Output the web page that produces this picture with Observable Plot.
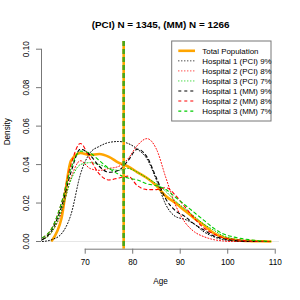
<!DOCTYPE html>
<html><head><meta charset="utf-8">
<script src="https://cdn.jsdelivr.net/npm/d3@7"></script>
<script src="https://cdn.jsdelivr.net/npm/@observablehq/plot@0.6"></script>
<style>body{margin:0;background:#fff;} svg{display:block}</style>
</head><body><div id="chart"></div>
<script>
const title = "(PCI) N = 1345, (MM) N = 1266";
const xLabel = "Age";
const yLabel = "Density";
const ages = [61,63,65,67,69,71,73,75,77,79,81,83,85,87,89,91,93,95,97,99,101,103,105,107,109];
const totalPop = [null,0.0005,0.012,0.042,0.046,0.045,0.0455,0.044,0.041,0.039,0.036,0.033,0.029,0.0235,0.020,0.016,0.012,0.0085,0.0045,0.0022,0.001,0.0004,0.0002,0.0001,0];
const h1PCI = [0,0.001,0.004,0.014,0.035,0.046,0.0495,0.0515,0.052,0.051,0.048,0.043,0.032,0.019,0.013,0.0115,0.009,0.005,0.0025,0.001,0.0003,0,0,0,0];
const h2PCI = [0.001,0.005,0.015,0.033,0.042,0.038,0.037,0.038,0.039,0.043,0.050,0.0535,0.048,0.033,0.019,0.010,0.005,0.0025,0.001,0.0003,0,0,0,0,0];
const h3PCI = [0.001,0.005,0.016,0.032,0.040,0.041,0.040,0.038,0.037,0.038,0.036,0.033,0.030,0.026,0.021,0.017,0.013,0.009,0.006,0.003,0.0015,0.0007,0.0003,0.0001,0];
const h1MM = [0.001,0.006,0.018,0.036,0.048,0.045,0.039,0.036,0.037,0.042,0.048,0.044,0.033,0.022,0.016,0.013,0.009,0.006,0.003,0.0015,0.0006,0.0002,0,0,0];
const h2MM = [0.002,0.007,0.020,0.040,0.051,0.043,0.035,0.032,0.033,0.034,0.029,0.027,0.027,0.028,0.024,0.018,0.012,0.007,0.004,0.002,0.0012,0.0006,0.0002,0.0001,0];
const h3MM = [0.002,0.007,0.020,0.038,0.047,0.046,0.042,0.038,0.035,0.033,0.032,0.030,0.029,0.027,0.023,0.019,0.015,0.011,0.007,0.004,0.0025,0.0015,0.0008,0.0003,0.0001];
const meanAge = 78.1;
const xTicks = [70,80,90,100,110];
const yTicks = [0,0.02,0.04,0.06,0.08,0.10];
const seriesLabels = ["Total Population","Hospital 1 (PCI) 9%","Hospital 2 (PCI) 8%","Hospital 3 (PCI) 7%","Hospital 1 (MM) 9%","Hospital 2 (MM) 8%","Hospital 3 (MM) 7%"];
const seriesValues = [totalPop,h1PCI,h2PCI,h3PCI,h1MM,h2MM,h3MM];
const seriesColors = ["#FFA500","#000000","#FF0000","#00CC00","#000000","#FF0000","#00CC00"];
const seriesDash = [null,"1,2","1,2","1,2","3,3","3,3","3,3"];
const seriesWidth = [2.6,1,1,1,1.1,1.1,1.1];

const xDomain = [60.8,110.9];
const yDomain = [-0.004,0.104];
const font = "'Liberation Sans', Arial, sans-serif";

const rows = seriesValues.map(vals => ages.map((a,i)=>({age:a, density:vals[i]})).filter(d=>d.density!=null));

const lineMarks = rows.map((r,i)=>Plot.line(r,{x:"age",y:"density",stroke:seriesColors[i],strokeWidth:seriesWidth[i],strokeDasharray:seriesDash[i],curve:"monotone-x",clip:true}));

const svg = Plot.plot({
  width:300,height:300,
  marginLeft:41,marginRight:21,marginTop:41,marginBottom:51.3,
  x:{domain:xDomain},
  y:{domain:yDomain},
  style:{fontFamily:font,fontSize:"8.2px",background:"white",color:"black"},
  marks:[
    Plot.ruleY([0],{stroke:"#e6e6e6",strokeWidth:1}),
    ...lineMarks,
    Plot.ruleX([meanAge],{stroke:"#FFA500",strokeWidth:2.6}),
    Plot.ruleX([meanAge],{stroke:"#4aa61c",strokeWidth:2.6,strokeDasharray:"5,3"}),
    Plot.ruleY([yDomain[0]],{x1:xTicks[0],x2:xTicks[xTicks.length-1],stroke:"#777"}),
    Plot.ruleX([xDomain[0]],{y1:yTicks[0],y2:yTicks[yTicks.length-1],stroke:"#777"}),
    Plot.axisX(xTicks,{tickSize:5,tickPadding:5,stroke:"#777",fill:"black",fontSize:8.2,label:null,tickFormat:d=>String(d)}),
    Plot.axisY(yTicks,{tickSize:5,stroke:"#777",label:null,tickFormat:()=>""}),
    Plot.text(yTicks,{x:xDomain[0],y:d=>d,text:d=>d.toFixed(2),rotate:-90,dx:-15,fontSize:8.2,fill:"black"}),
    Plot.text([xLabel],{frameAnchor:"bottom",dy:35,fontSize:8.2,fill:"black"}),
    Plot.text([yLabel],{frameAnchor:"left",dx:-34,rotate:-90,fontSize:8.2,fill:"black"}),
    Plot.text([title],{frameAnchor:"top",dy:-21,fontSize:9.9,fontWeight:"bold",fill:"black"})
  ]
});

// legend
const lg = d3.select(svg).append("g").attr("font-family",font).attr("font-size","7.9px").attr("text-anchor","start");
lg.append("rect").attr("x",171.7).attr("y",41).attr("width",99.3).attr("height",80).attr("fill","white").attr("stroke","#777");
seriesLabels.forEach((lab,i)=>{
  const y = 50.8 + i*10.05;
  const ln = lg.append("line").attr("x1",178.3).attr("x2",195).attr("y1",y).attr("y2",y)
    .attr("stroke",seriesColors[i]).attr("stroke-width",seriesWidth[i]);
  if (seriesDash[i]) ln.attr("stroke-dasharray",seriesDash[i]);
  lg.append("text").attr("x",202.3).attr("y",y).attr("dy","0.35em").attr("text-anchor","start").attr("fill","black").text(lab);
});
document.getElementById("chart").appendChild(svg);
</script></body></html>
